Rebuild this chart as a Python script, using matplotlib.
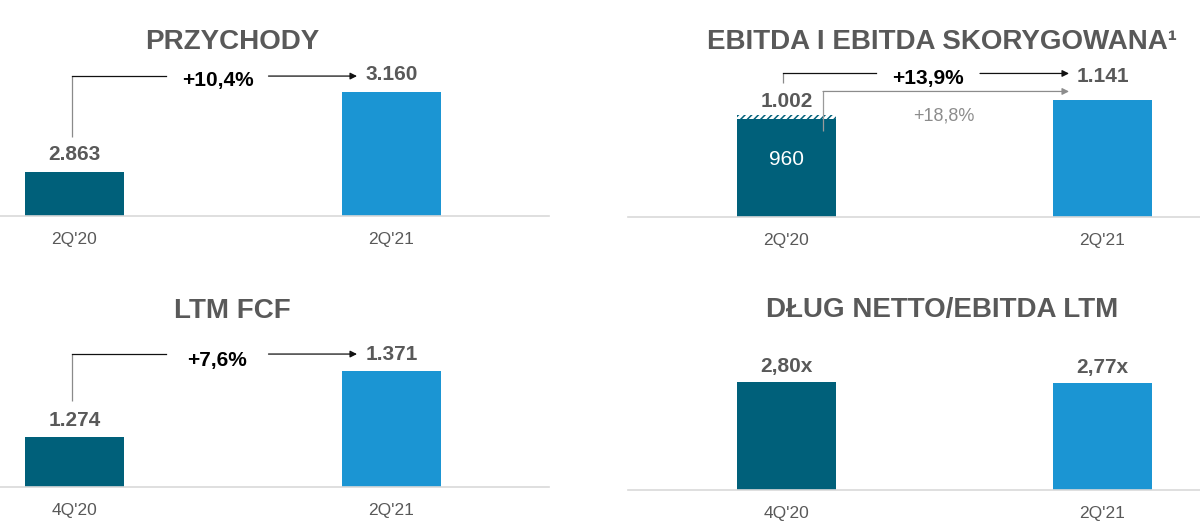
import matplotlib
matplotlib.use("Agg")
import matplotlib.pyplot as plt

# ---------------- data ----------------
rev_categories = ["2Q'20", "2Q'21"]
rev_values = [2863, 3160]
rev_change = "+10,4%"

ebitda_categories = ["2Q'20", "2Q'21"]
ebitda_values = [960, 1141]
ebitda_adj_2q20 = 1002
ebitda_adj_change = "+13,9%"
ebitda_change = "+18,8%"

fcf_categories = ["4Q'20", "2Q'21"]
fcf_values = [1274, 1371]
fcf_change = "+7,6%"

debt_categories = ["4Q'20", "2Q'21"]
debt_values = [2.80, 2.77]

titles = ["PRZYCHODY", "EBITDA I EBITDA SKORYGOWANA\u00b9", "LTM FCF",
          "DŁUG NETTO/EBITDA LTM"]

# ---------------- style ----------------
plt.rcParams['font.family'] = ['Liberation Sans', 'DejaVu Sans']
plt.rcParams['hatch.linewidth'] = 1.1
TEAL = '#00607a'
BLUE = '#1b95d3'
GRAY = '#595959'
LGRAY = '#d9d9d9'

W, H = 1200, 528
fig = plt.figure(figsize=(12, 5.28), dpi=100)


def fmt_thousands(v):
    return f"{v:,}".replace(",", ".")


def fmt_ratio(v):
    return f"{v:.2f}".replace(".", ",") + "x"


def make_ax(left, right, base, top, c0, c1, yfloor, ppu):
    ax = fig.add_axes([left / W, 1 - base / H, (right - left) / W, (base - top) / H])
    unit = c1 - c0
    ax.set_xlim((left - c0) / unit, (right - c0) / unit)
    ax.set_ylim(yfloor, yfloor + (base - top) / ppu)
    for s in ['top', 'right', 'left']:
        ax.spines[s].set_visible(False)
    ax.spines['bottom'].set_color(LGRAY)
    ax.spines['bottom'].set_linewidth(1.2)
    ax.set_xticks([])
    ax.set_yticks([])
    ax.patch.set_alpha(0)
    return ax, 99 / unit


def cat_labels(ax, cats):
    for i, c in enumerate(cats):
        ax.annotate(c, xy=(i, 0), xycoords=('data', 'axes fraction'),
                    xytext=(0, -28), textcoords='offset pixels',
                    ha='center', va='baseline', fontsize=12.5, color=GRAY)


def val_label(ax, i, v, text, dy, **kw):
    props = dict(fontsize=15, fontweight='bold', color=GRAY)
    props.update(kw)
    ax.annotate(text, xy=(i, v), xytext=(0, dy), textcoords='offset pixels',
                ha='center', va='baseline', **props)


def off(ax, x, y, dx, dy):
    X, Y = ax.transData.transform((x, y))
    return ax.transData.inverted().transform((X + dx, Y + dy))


def bracket(ax, y0, y1, start_dx, start_dy, line_dy, tip_dx, label=None,
            gap=0, label_dx=0, label_dy=0, hcolor='#111111', vcolor='#8a8a8a',
            text_kw=None, start_x=0):
    xs, ys = off(ax, start_x, y0, start_dx, start_dy)
    _, yl = off(ax, start_x, y1, 0, line_dy)
    xt, _ = off(ax, 1, y1, tip_dx, 0)
    ax.plot([xs, xs], [ys, yl], color=vcolor, lw=0.9, solid_capstyle='butt', zorder=3)
    Xs, Yl = ax.transData.transform((xs, yl))
    Xt, _ = ax.transData.transform((xt, yl))
    mid = (Xs + Xt) / 2 + label_dx
    inv = ax.transData.inverted()
    if gap > 0:
        xg0 = inv.transform((mid - gap, Yl))[0]
        xg1 = inv.transform((mid + gap, Yl))[0]
        ax.plot([xs, xg0], [yl, yl], color=hcolor, lw=0.9, zorder=3)
    else:
        xg1 = xs
    ax.annotate('', xy=(xt, yl), xytext=(xg1, yl),
                arrowprops=dict(arrowstyle='-|>', color=hcolor, lw=0.9,
                                mutation_scale=10, shrinkA=0, shrinkB=0), zorder=3)
    if label:
        xm = inv.transform((mid, Yl))[0]
        kw = dict(fontsize=15, fontweight='bold', color='black')
        if text_kw:
            kw.update(text_kw)
        ax.annotate(label, xy=(xm, yl), xytext=(0, -label_dy),
                    textcoords='offset pixels', ha='center', va='baseline', **kw)


def title(x, y, text):
    fig.text(x / W, 1 - y / H, text, ha='center', va='baseline',
             fontsize=20, fontweight='bold', color=GRAY)


# ---------------- panel 1: PRZYCHODY ----------------
ax1, bw = make_ax(0, 549, 216, 20, 74.5, 391.5, 2700, 0.2694)
ax1.bar([0, 1], rev_values, width=bw, color=[TEAL, BLUE], zorder=1)
for i, v in enumerate(rev_values):
    val_label(ax1, i, v, fmt_thousands(v), 12)
cat_labels(ax1, rev_categories)
bracket(ax1, rev_values[0], rev_values[1], -2.5, 35, 16, -34.5,
        label=rev_change, gap=51, label_dx=3, label_dy=10)
title(232.5, 49, titles[0])

# ---------------- panel 2: EBITDA ----------------
ax2, bw = make_ax(628, 1200, 216.5, 20, 786.5, 1102.5, 0, 0.1017)
ax2.bar([0, 1], ebitda_values, width=bw, color=[TEAL, BLUE], zorder=1)
ax2.bar(0, ebitda_adj_2q20 - ebitda_values[0], bottom=ebitda_values[0], width=bw,
        color='white', edgecolor=TEAL, hatch='/////', linewidth=0, zorder=1)
val_label(ax2, 0, ebitda_adj_2q20, fmt_thousands(ebitda_adj_2q20), 8)
val_label(ax2, 1, ebitda_values[1], fmt_thousands(ebitda_values[1]), 18)
val_label(ax2, 0, ebitda_values[0], fmt_thousands(ebitda_values[0]), -46,
          fontweight='normal', color='white')
cat_labels(ax2, ebitda_categories)
bracket(ax2, ebitda_adj_2q20, ebitda_values[1], -3.5, 32, 27, -33.5,
        label=ebitda_adj_change, gap=52, label_dx=2, label_dy=10.5)
bracket(ax2, ebitda_values[0], ebitda_values[1], 36.5, -12, 9, -33.5,
        label=ebitda_change, gap=0, label_dx=-2, label_dy=29,
        hcolor='#8c8c8c', vcolor='#9a9a9a',
        text_kw=dict(fontsize=13, fontweight='normal', color='#8c8c8c'))
title(942, 49, titles[1])

# ---------------- panel 3: LTM FCF ----------------
ax3, bw = make_ax(0, 549, 487, 290, 74.5, 391.5, 1200.5, 0.680)
ax3.bar([0, 1], fcf_values, width=bw, color=[TEAL, BLUE], zorder=1)
for i, v in enumerate(fcf_values):
    val_label(ax3, i, v, fmt_thousands(v), 11)
cat_labels(ax3, fcf_categories)
bracket(ax3, fcf_values[0], fcf_values[1], -2.5, 36, 17, -34.5,
        label=fcf_change, gap=51, label_dx=3, label_dy=12)
title(232, 318.5, titles[2])

# ---------------- panel 4: DEBT ----------------
ax4, bw = make_ax(628, 1200, 490, 290, 786.5, 1102.5, 0, 38.6)
ax4.bar([0, 1], debt_values, width=bw, color=[TEAL, BLUE], zorder=1)
for i, v in enumerate(debt_values):
    val_label(ax4, i, v, fmt_ratio(v), 10)
cat_labels(ax4, debt_categories)
title(942, 317.5, titles[3])

fig.savefig("out.png", dpi=100)
